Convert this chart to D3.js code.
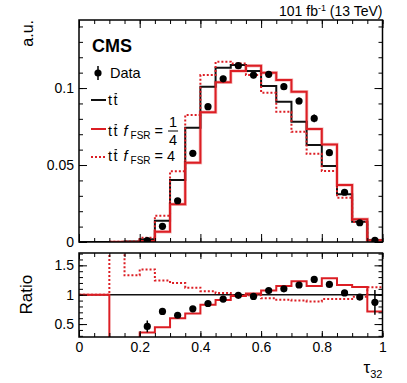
<!DOCTYPE html>
<html>
<head>
<script src="https://cdnjs.cloudflare.com/ajax/libs/d3/7.8.5/d3.min.js"></script>
<style>
  body { margin: 0; background: #fff; }
  text { font-family: 'Liberation Sans', Arial, Helvetica, sans-serif; fill: #000; }
</style>
</head>
<body>
<script>
  // bin edges of tau32, 20 bins
  const binEdges = [0, 0.05, 0.1, 0.15, 0.2, 0.25, 0.3, 0.35, 0.4, 0.45, 0.5,
                    0.55, 0.6, 0.65, 0.7, 0.75, 0.8, 0.85, 0.9, 0.95, 1]

  // upper panel, normalised (a.u.)
  const ttNominal = [0, 0, 0, 0.0003, 0.0018, 0.0138, 0.0403, 0.0742, 0.1009, 0.1132,
                     0.1149, 0.1110, 0.1013, 0.0911, 0.0781, 0.0630, 0.0494, 0.0310, 0.0132, 0.0012]
  const ttFsrQuarter = [null, null, 0, 0, 0.0007, 0.0067, 0.0245, 0.0515, 0.0842, 0.1037,
                        0.1110, 0.1145, 0.1100, 0.1052, 0.0976, 0.0734, 0.0634, 0.0370, 0.0147, 0.0009]
  const ttFsrFour = [null, null, 0.0002, 0.0004, 0.0027, 0.0171, 0.0460, 0.0825, 0.1084, 0.1171,
                     0.1160, 0.1085, 0.0970, 0.0846, 0.0716, 0.0573, 0.0461, 0.0288, 0.0130, 0.0013]
  const dataVals = [null, null, null, null, 0.0009, 0.0102, 0.0268, 0.0576, 0.0879, 0.1060,
                    0.1145, 0.1084, 0.1089, 0.1009, 0.0916, 0.0803, 0.0580, 0.0323, 0.0125, 0.0010]
  const dataErr = [null, null, null, null, 0.0005, 0.0008, 0.001, 0.0015, 0.0018, 0.002,
                   0.002, 0.002, 0.002, 0.002, 0.0022, 0.0025, 0.0022, 0.0018, 0.0012, 0.0005]

  // lower panel, ratio to nominal tt
  const ratioData = [null, null, null, null, 0.46, 0.715, 0.65, 0.76, 0.85, 0.925,
                     0.99, 0.97, 1.07, 1.10, 1.165, 1.26, 1.175, 1.03, 0.96, 0.87]
  const ratioDataErr = [null, null, null, null, 0.1, 0.03, 0.02, 0.015, 0.012, 0.01,
                        0.01, 0.01, 0.012, 0.012, 0.015, 0.018, 0.02, 0.03, 0.04, 0.21]
  const ratioQuarter = [1, 1, 0, 0, 0.357, 0.447, 0.60, 0.68, 0.83, 0.91,
                        0.98, 1.02, 1.07, 1.15, 1.23, 1.15, 1.28, 1.165, 1.13, 0.715]
  const ratioFour = [1, 1, 3, 1.33, 1.43, 1.24, 1.20, 1.12, 1.06, 1.03,
                     0.99, 0.99, 0.94, 0.915, 0.90, 0.885, 0.925, 0.925, 0.965, 1.125]

  const xMajor = [0, 0.2, 0.4, 0.6, 0.8, 1]
  const topMajor = [0, 0.05, 0.1]
  const ratioMajor = [0.5, 1, 1.5]

  const w = 407, h = 383
  const left = 79, right = 382.5
  const topY0 = 20, topY1 = 242
  const botY0 = 253, botY1 = 337
  const red = "#dc1e24"

  const svg = d3.select("body").append("svg")
    .attr("width", w).attr("height", h)

  const x = d3.scaleLinear().domain([0, 1]).range([left, right])
  const yTop = d3.scaleLinear().domain([0, 0.1442]).range([topY1, topY0])
  const yRat = d3.scaleLinear().domain([0.28, 1.71]).range([botY1, botY0])

  const xMinor = d3.range(0, 1.0001, 0.05)
  const topMinor = d3.range(0, 0.1442, 0.01)
  const ratMinor = d3.range(0.3, 1.71, 0.1)

  function ticks(g, axis, size) {
    g.call(axis.tickSize(size).tickSizeOuter(0).tickFormat(""))
    g.select(".domain").remove()
    g.selectAll("line").attr("stroke", "#000").attr("stroke-width", 1)
  }

  function frameTicks(y, yMinorVals, yMajorVals, y0, y1, xMajLen, yMajLen) {
    ticks(svg.append("g").attr("transform", `translate(0,${y1})`), d3.axisBottom(x).tickValues(xMinor), -4)
    ticks(svg.append("g").attr("transform", `translate(0,${y1})`), d3.axisBottom(x).tickValues(xMajor), -xMajLen)
    ticks(svg.append("g").attr("transform", `translate(0,${y0})`), d3.axisTop(x).tickValues(xMinor), -4)
    ticks(svg.append("g").attr("transform", `translate(0,${y0})`), d3.axisTop(x).tickValues(xMajor), -xMajLen)
    ticks(svg.append("g").attr("transform", `translate(${left},0)`), d3.axisLeft(y).tickValues(yMinorVals), -4)
    ticks(svg.append("g").attr("transform", `translate(${left},0)`), d3.axisLeft(y).tickValues(yMajorVals), -yMajLen)
    ticks(svg.append("g").attr("transform", `translate(${right},0)`), d3.axisRight(y).tickValues(yMinorVals), -4)
    ticks(svg.append("g").attr("transform", `translate(${right},0)`), d3.axisRight(y).tickValues(yMajorVals), -yMajLen)
  }

  function labels(g, axis, pad) {
    g.call(axis.tickSize(0).tickPadding(pad).tickFormat(d3.format("~g")))
    g.select(".domain").remove()
    g.selectAll("text").attr("font-size", 14)
      .style("font-family", "'Liberation Sans', Arial, sans-serif")
  }

  // histogram step points from a value array
  function steps(vals, start) {
    const pts = []
    for (let i = start; i < vals.length; i++) {
      if (vals[i] == null) continue
      pts.push([binEdges[i], vals[i]], [binEdges[i + 1], vals[i]])
    }
    return pts
  }

  svg.append("clipPath").attr("id", "ctop")
    .append("rect").attr("x", left).attr("y", topY0).attr("width", right - left).attr("height", topY1 - topY0)
  svg.append("clipPath").attr("id", "cbot")
    .append("rect").attr("x", left).attr("y", botY0).attr("width", right - left).attr("height", botY1 - botY0)

  // ---------- upper panel ----------
  const lineTop = d3.line().x(d => x(d[0])).y(d => yTop(d[1]))
  const gTop = svg.append("g").attr("clip-path", "url(#ctop)")

  gTop.append("path").attr("d", lineTop(steps(ttFsrQuarter, 0)))
    .attr("fill", "none").attr("stroke", "#f6c2c2").attr("stroke-width", 3.5)
  gTop.append("path").attr("d", lineTop(steps(ttNominal, 0)))
    .attr("fill", "none").attr("stroke", "#111").attr("stroke-width", 2)
  gTop.append("path").attr("d", lineTop(steps(ttFsrFour, 0)))
    .attr("fill", "none").attr("stroke", red).attr("stroke-width", 2).attr("stroke-dasharray", "2,2")
  gTop.append("path").attr("d", lineTop(steps(ttFsrQuarter, 0)))
    .attr("fill", "none").attr("stroke", red).attr("stroke-width", 2)

  const pts = dataVals.map((v, i) => ({ v: v, e: dataErr[i], c: (binEdges[i] + binEdges[i + 1]) / 2 }))
    .filter(d => d.v != null)
  gTop.selectAll(".derr").data(pts).enter().append("line")
    .attr("x1", d => x(d.c)).attr("x2", d => x(d.c))
    .attr("y1", d => yTop(d.v - d.e)).attr("y2", d => yTop(d.v + d.e))
    .attr("stroke", "#000").attr("stroke-width", 1.5)
  gTop.selectAll(".dpt").data(pts).enter().append("circle")
    .attr("cx", d => x(d.c)).attr("cy", d => yTop(d.v)).attr("r", 3.6).attr("fill", "#000")

  frameTicks(yTop, topMinor, topMajor, topY0, topY1, 8, 8)
  labels(svg.append("g").attr("transform", `translate(${left},0)`), d3.axisLeft(yTop).tickValues(topMajor), 5)

  svg.append("rect").attr("x", left).attr("y", topY0).attr("width", right - left).attr("height", topY1 - topY0)
    .attr("fill", "none").attr("stroke", "#000").attr("stroke-width", 1.5)

  // ---------- ratio panel ----------
  const lineBot = d3.line().x(d => x(d[0])).y(d => yRat(d[1]))
  const gBot = svg.append("g").attr("clip-path", "url(#cbot)")

  gBot.append("line").attr("x1", x(0)).attr("x2", x(1)).attr("y1", yRat(1)).attr("y2", yRat(1))
    .attr("stroke", "#111").attr("stroke-width", 1.6)
  gBot.append("path").attr("d", lineBot(steps(ratioFour, 0)))
    .attr("fill", "none").attr("stroke", red).attr("stroke-width", 2).attr("stroke-dasharray", "2,2")
  gBot.append("path").attr("d", lineBot(steps(ratioQuarter, 0)))
    .attr("fill", "none").attr("stroke", red).attr("stroke-width", 2)

  const rpts = ratioData.map((v, i) => ({ v: v, e: ratioDataErr[i], c: (binEdges[i] + binEdges[i + 1]) / 2 }))
    .filter(d => d.v != null)
  gBot.selectAll(".rerr").data(rpts).enter().append("line")
    .attr("x1", d => x(d.c)).attr("x2", d => x(d.c))
    .attr("y1", d => yRat(d.v - d.e)).attr("y2", d => yRat(d.v + d.e))
    .attr("stroke", "#000").attr("stroke-width", 1.5)
  gBot.selectAll(".rpt").data(rpts).enter().append("circle")
    .attr("cx", d => x(d.c)).attr("cy", d => yRat(d.v)).attr("r", 3.6).attr("fill", "#000")

  frameTicks(yRat, ratMinor, ratioMajor, botY0, botY1, 6, 8)
  labels(svg.append("g").attr("transform", `translate(${left},0)`), d3.axisLeft(yRat).tickValues(ratioMajor), 5)
  labels(svg.append("g").attr("transform", `translate(0,${botY1})`), d3.axisBottom(x).tickValues(xMajor), 5)

  svg.append("rect").attr("x", left).attr("y", botY0).attr("width", right - left).attr("height", botY1 - botY0)
    .attr("fill", "none").attr("stroke", "#000").attr("stroke-width", 1.5)

  // ---------- titles ----------
  const lumi = svg.append("text").attr("x", right).attr("y", 16).attr("text-anchor", "end").attr("font-size", 14)
  lumi.append("tspan").text("101 fb")
  lumi.append("tspan").attr("font-size", 9).attr("dy", -5).text("-1")
  lumi.append("tspan").attr("dy", 5).text(" (13 TeV)")

  svg.append("text").attr("x", 92).attr("y", 52).attr("font-size", 18).attr("font-weight", "bold").text("CMS")

  svg.append("text").attr("transform", "translate(33,20) rotate(-90)").attr("text-anchor", "end")
    .attr("font-size", 16).text("a.u.")
  svg.append("text").attr("transform", `translate(32,${yRat(1)}) rotate(-90)`).attr("text-anchor", "middle")
    .attr("font-size", 17).text("Ratio")

  const tau = svg.append("text").attr("x", right).attr("y", 373).attr("text-anchor", "end").attr("font-size", 17)
  tau.append("tspan").text("τ")
  tau.append("tspan").attr("font-size", 11).attr("dy", 5).text("32")

  // ---------- legend ----------
  const lx0 = 91, lx1 = 106, tx = 108, fs = 14.5

  function ttbar(y) {
    const t = svg.append("text").attr("x", tx).attr("y", y).attr("font-size", fs)
    t.append("tspan").text("t")
    t.append("tspan").attr("dx", 1.5).text("t")
    const b = t.node().getExtentOfChar(1)
    svg.append("line").attr("x1", b.x + 1).attr("x2", b.x + b.width - 0.5)
      .attr("y1", y - fs * 0.78).attr("y2", y - fs * 0.78)
      .attr("stroke", "#000").attr("stroke-width", 1)
    return t
  }

  function fsrLabel(t, tail) {
    t.append("tspan").attr("dx", 6).attr("font-style", "italic").text("f")
    t.append("tspan").attr("font-size", 10).attr("dx", 3).attr("dy", 3).text("FSR")
    t.append("tspan").attr("dx", 4).attr("dy", -3).text(tail)
  }

  // data
  svg.append("line").attr("x1", 98).attr("x2", 98).attr("y1", 66).attr("y2", 80)
    .attr("stroke", "#000").attr("stroke-width", 1.5)
  svg.append("circle").attr("cx", 98).attr("cy", 73).attr("r", 3.6).attr("fill", "#000")
  svg.append("text").attr("x", 110).attr("y", 78).attr("font-size", fs).text("Data")

  // nominal
  svg.append("line").attr("x1", lx0).attr("x2", lx1).attr("y1", 100).attr("y2", 100)
    .attr("stroke", "#111").attr("stroke-width", 2)
  ttbar(105)

  // fsr 1/4
  svg.append("line").attr("x1", lx0).attr("x2", lx1).attr("y1", 129).attr("y2", 129)
    .attr("stroke", red).attr("stroke-width", 2)
  const t3 = ttbar(136)
  fsrLabel(t3, "=")
  const bb = t3.node().getBBox()
  const fx = bb.x + bb.width + 10
  svg.append("text").attr("x", fx).attr("y", 127).attr("text-anchor", "middle").attr("font-size", fs).text("1")
  svg.append("line").attr("x1", fx - 5).attr("x2", fx + 5).attr("y1", 131).attr("y2", 131)
    .attr("stroke", "#000").attr("stroke-width", 1)
  svg.append("text").attr("x", fx).attr("y", 145).attr("text-anchor", "middle").attr("font-size", fs).text("4")

  // fsr 4
  svg.append("line").attr("x1", lx0).attr("x2", lx1).attr("y1", 157).attr("y2", 157)
    .attr("stroke", red).attr("stroke-width", 2).attr("stroke-dasharray", "2,2")
  const t4 = ttbar(161)
  fsrLabel(t4, "= 4")
</script>
</body>
</html>
